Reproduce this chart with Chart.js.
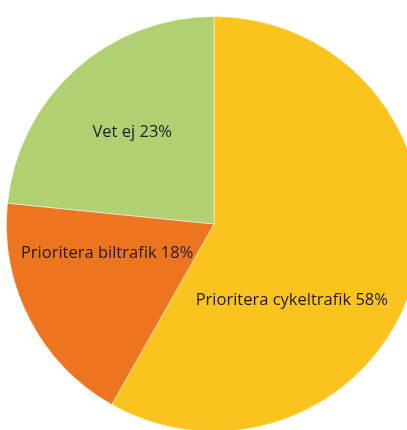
<!DOCTYPE html>
<html>
<head>
<meta charset="utf-8">
<script src="https://cdn.jsdelivr.net/npm/chart.js@4"></script>
<style>
  html, body { margin: 0; padding: 0; background: #fff; overflow: hidden; width: 407px; height: 430px; }
  #wrap { position: absolute; left: 6px; top: 16px; width: 416px; height: 416px; }
</style>
</head>
<body>
<div id="wrap"><canvas id="pie" width="416" height="416"></canvas></div>
<script>
// ---------------------------------------------------------------------------
// Data
// ---------------------------------------------------------------------------

const labels = ['Prioritera cykeltrafik', 'Prioritera biltrafik', 'Vet ej'];
const values = [58.2, 18.4, 23.4];   // shares in %, shown rounded
const colors = ['#FBC31D', '#ED7520', '#B1D072'];

// label offsets from the pie centre, as a fraction of the radius
const labelOffsets = [[0.375, 0.367], [-0.515, 0.14], [-0.394, -0.44]];

const sliceLabels = {
  id: 'sliceLabels',
  afterDatasetsDraw(chart) {
    const ctx = chart.ctx;
    const arcs = chart.getDatasetMeta(0).data;
    ctx.save();
    ctx.font = '16.5px "Open Sans", sans-serif';
    ctx.fillStyle = '#1d1d1d';
    ctx.textAlign = 'center';
    ctx.textBaseline = 'middle';
    arcs.forEach((arc, i) => {
      const r = arc.outerRadius;
      const x = arc.x + labelOffsets[i][0] * r;
      const y = arc.y + labelOffsets[i][1] * r;
      ctx.fillText(`${labels[i]} ${Math.round(values[i])}%`, x, y);
    });
    ctx.restore();
  }
};

new Chart(document.getElementById('pie').getContext('2d'), {
  type: 'pie',
  data: {
    labels,
    datasets: [{ data: values, backgroundColor: colors, borderColor: 'rgba(255,255,255,0.45)', borderWidth: 1 }]
  },
  options: {
    responsive: false,
    animation: false,
    layout: { padding: 0 },
    plugins: { legend: { display: false }, tooltip: { enabled: false } }
  },
  plugins: [sliceLabels]
});
</script>
</body>
</html>
